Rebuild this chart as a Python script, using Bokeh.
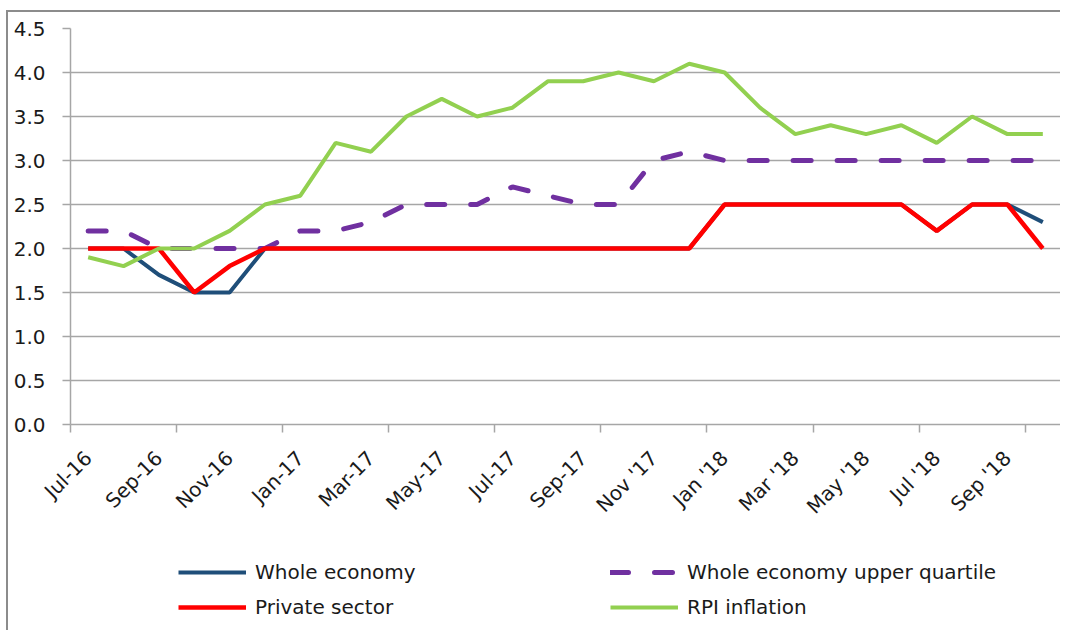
import math
from bokeh.plotting import figure
from bokeh.layouts import column
from bokeh.models import FixedTicker, Legend, LegendItem, Range1d
from bokeh.embed import file_html
from bokeh.resources import INLINE

months = ["Jul-16", "Aug-16", "Sep-16", "Oct-16", "Nov-16", "Dec-16",
          "Jan-17", "Feb-17", "Mar-17", "Apr-17", "May-17", "Jun-17",
          "Jul-17", "Aug-17", "Sep-17", "Oct-17", "Nov-17", "Dec-17",
          "Jan-18", "Feb-18", "Mar-18", "Apr-18", "May-18", "Jun-18",
          "Jul-18", "Aug-18", "Sep-18", "Oct-18"]
whole_economy = [2.0, 2.0, 1.7, 1.5, 1.5, 2.0, 2.0, 2.0, 2.0, 2.0, 2.0, 2.0,
                 2.0, 2.0, 2.0, 2.0, 2.0, 2.0, 2.5, 2.5, 2.5, 2.5, 2.5, 2.5,
                 2.2, 2.5, 2.5, 2.3]
upper_quartile = [2.2, 2.2, 2.0, 2.0, 2.0, 2.0, 2.2, 2.2, 2.3, 2.5, 2.5, 2.5,
                  2.7, 2.6, 2.5, 2.5, 3.0, 3.1, 3.0, 3.0, 3.0, 3.0, 3.0, 3.0,
                  3.0, 3.0, 3.0, 3.0]
private_sector = [2.0, 2.0, 2.0, 1.5, 1.8, 2.0, 2.0, 2.0, 2.0, 2.0, 2.0, 2.0,
                  2.0, 2.0, 2.0, 2.0, 2.0, 2.0, 2.5, 2.5, 2.5, 2.5, 2.5, 2.5,
                  2.2, 2.5, 2.5, 2.0]
rpi_inflation = [1.9, 1.8, 2.0, 2.0, 2.2, 2.5, 2.6, 3.2, 3.1, 3.5, 3.7, 3.5,
                 3.6, 3.9, 3.9, 4.0, 3.9, 4.1, 4.0, 3.6, 3.3, 3.4, 3.3, 3.4,
                 3.2, 3.5, 3.3, 3.3]
tick_labels = ["Jul-16", "Sep-16", "Nov-16", "Jan-17", "Mar-17", "May-17",
               "Jul-17", "Sep-17", "Nov '17", "Jan '18", "Mar '18", "May '18",
               "Jul '18", "Sep '18"]
y_ticks = [0.0, 0.5, 1.0, 1.5, 2.0, 2.5, 3.0, 3.5, 4.0, 4.5]
series_names = ["Whole economy", "Whole economy upper quartile",
                "Private sector", "RPI inflation"]
series_values = [whole_economy, upper_quartile, private_sector, rpi_inflation]

x = list(range(len(months)))
n = len(months)
label_pos = list(range(0, 2 * len(tick_labels), 2))
boundaries = [i - 0.5 for i in range(0, n, 3)]

FONT = "DejaVu Sans"
GRID = "#a6a6a6"
TXT = "#1a1a1a"
COLORS = ["#1f4e79", "#7030a0", "#ff0000", "#92d050"]
WIDTHS = [4, 5, 4.5, 4]

p = figure(width=1052, height=518,
           x_range=Range1d(-0.5, n - 0.5), y_range=Range1d(0, 4.5),
           output_backend="svg", toolbar_location=None,
           min_border_left=62, min_border_right=0, min_border_top=16,
           min_border_bottom=105)
p.outline_line_color = None
p.background_fill_color = "white"

# x axis
p.xaxis.ticker = FixedTicker(ticks=label_pos, minor_ticks=boundaries)
p.xaxis.major_label_overrides = {pos: lab for pos, lab in zip(label_pos, tick_labels)}
p.xaxis.major_label_orientation = math.pi / 4
p.xaxis.major_tick_line_color = None
p.xaxis.major_tick_out = 0
p.xaxis.major_tick_in = 0
p.xaxis.minor_tick_line_color = GRID
p.xaxis.minor_tick_line_width = 1.5
p.xaxis.minor_tick_out = 8
p.xaxis.minor_tick_in = 0
p.xaxis.major_label_standoff = 22
p.xaxis.axis_line_color = GRID
p.xaxis.axis_line_width = 1.5
p.xgrid.grid_line_color = None

# y axis
p.yaxis.ticker = FixedTicker(ticks=y_ticks)
p.yaxis.major_label_overrides = {v: f"{v:.1f}" for v in y_ticks}
p.yaxis.major_tick_line_color = GRID
p.yaxis.major_tick_line_width = 1.5
p.yaxis.major_tick_out = 8
p.yaxis.major_tick_in = 0
p.yaxis.minor_tick_line_color = None
p.yaxis.major_label_standoff = 17
p.yaxis.axis_line_color = GRID
p.yaxis.axis_line_width = 1.5
p.ygrid.grid_line_color = GRID
p.ygrid.grid_line_width = 1.5

for ax in (p.xaxis, p.yaxis):
    ax.major_label_text_font = FONT
    ax.major_label_text_font_size = "20px"
    ax.major_label_text_color = TXT

def style(i):
    kw = dict(line_color=COLORS[i], line_width=WIDTHS[i])
    if i == 1:
        kw.update(line_dash="18 26", line_cap="round")
    return kw

for i, vals in enumerate(series_values):
    p.line(x, vals, **style(i))

# legend strip below the chart (its frame is aligned with the chart's frame);
# the series are drawn again here outside the visible range so the legend keys show
q = figure(width=1052, height=100,
           x_range=Range1d(-0.5, n - 0.5), y_range=Range1d(-10, -9),
           output_backend="svg", toolbar_location=None,
           x_axis_type=None, y_axis_type=None,
           min_border_left=62, min_border_right=0, min_border_top=0,
           min_border_bottom=0)
q.outline_line_color = None
q.xgrid.grid_line_color = None
q.ygrid.grid_line_color = None
leg_r = [q.line(x, vals, **style(i)) for i, vals in enumerate(series_values)]

def make_legend(idx, loc):
    return Legend(items=[LegendItem(label=series_names[i], renderers=[leg_r[i]]) for i in idx],
                  location=loc, orientation="vertical",
                  glyph_width=68, glyph_height=20, label_height=20,
                  spacing=11, padding=0, margin=0, label_standoff=9,
                  border_line_color=None, background_fill_alpha=0,
                  label_text_font=FONT, label_text_font_size="20px",
                  label_text_color=TXT)

q.add_layout(make_legend([0, 2], (108, 11)))
q.add_layout(make_legend([1, 3], (540, 11)))

layout = column(p, q, spacing=0,
                styles={"border-left": "2px solid #8c8c8c", "border-top": "2px solid #8c8c8c",
                        "margin-left": "6px", "margin-top": "10px"})

open("out.html", "w").write(file_html(layout, INLINE))
